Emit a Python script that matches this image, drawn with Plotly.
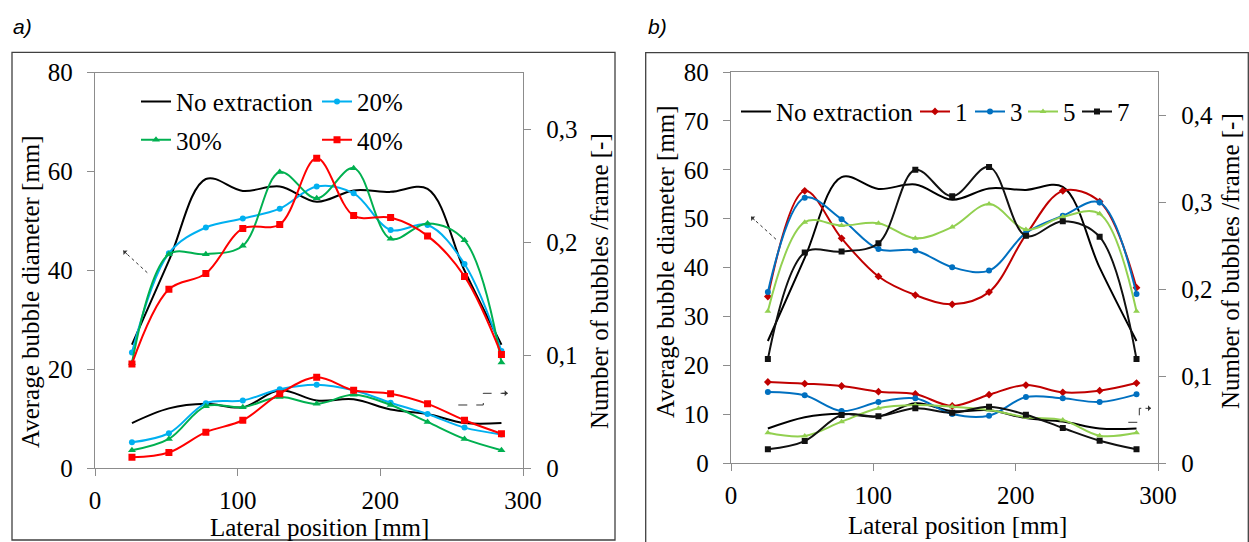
import plotly.graph_objects as go

# ---------------- data ----------------
lateral_mm = [25.9, 51.8, 77.7, 103.6, 129.5, 155.4, 181.3, 207.2, 233.1, 259.0, 284.9]

no_ext_diam = [25.0, 42.0, 58.5, 56.1, 57.0, 53.9, 56.2, 55.9, 56.5, 40.0, 25.0]
no_ext_num = [0.040, 0.053, 0.057, 0.054, 0.069, 0.060, 0.061, 0.052, 0.048, 0.040, 0.040]

a_20_diam = [23.4, 43.5, 48.7, 50.5, 52.5, 57.0, 55.6, 48.2, 49.2, 41.3, 23.7]
a_30_diam = [21.3, 43.3, 43.3, 45.0, 59.9, 54.6, 60.7, 46.4, 49.5, 46.1, 21.4]
a_40_diam = [21.1, 36.2, 39.4, 48.5, 49.3, 62.7, 51.1, 50.7, 47.0, 38.8, 23.0]
a_20_num = [0.023, 0.031, 0.0575, 0.060, 0.070, 0.074, 0.069, 0.058, 0.048, 0.036, 0.030]
a_30_num = [0.016, 0.026, 0.055, 0.054, 0.063, 0.057, 0.065, 0.056, 0.041, 0.026, 0.016]
a_40_num = [0.0097, 0.014, 0.032, 0.0425, 0.066, 0.0805, 0.069, 0.066, 0.057, 0.0425, 0.0306]

b_1_diam = [34.1, 55.7, 46.0, 38.2, 34.4, 32.5, 35.0, 46.7, 55.7, 53.5, 35.9]
b_3_diam = [35.0, 54.3, 49.9, 43.8, 43.5, 40.1, 39.4, 47.1, 50.6, 53.3, 34.6]
b_5_diam = [31.1, 49.3, 48.6, 49.1, 46.0, 48.3, 53.0, 47.8, 50.4, 51.0, 31.1]
b_7_diam = [21.3, 43.1, 43.3, 45.0, 60.0, 54.6, 60.6, 46.5, 49.5, 46.3, 21.3]
b_1_num = [0.0935, 0.0916, 0.0889, 0.0824, 0.0797, 0.0659, 0.0789, 0.090, 0.0816, 0.0835, 0.0923]
b_3_num = [0.082, 0.0782, 0.0601, 0.0705, 0.0747, 0.0567, 0.0548, 0.0762, 0.0747, 0.0705, 0.0793]
b_5_num = [0.0352, 0.0314, 0.0479, 0.0632, 0.067, 0.0651, 0.0613, 0.0529, 0.0498, 0.0318, 0.0352]
b_7_num = [0.0161, 0.0256, 0.0555, 0.054, 0.0632, 0.0582, 0.0651, 0.0559, 0.0406, 0.026, 0.0161]

# ---------------- figure ----------------
W, H = 1249, 542
SERIF = "Liberation Serif"
AX = "#8c8c8c"


def px(x):
    return x / W


def py(y):
    return 1 - y / H


fig = go.Figure()


def add(x, y, xa, ya, color, name, legend, symbol=None, msize=6, show=True):
    mode = "lines+markers" if symbol else "lines"
    fig.add_trace(go.Scatter(
        x=x, y=y, xaxis=xa, yaxis=ya, mode=mode, name=name,
        line=dict(color=color, width=2, shape="spline", smoothing=1),
        marker=dict(symbol=symbol or "circle", size=msize, color=color),
        legend=legend, showlegend=show, hoverinfo="skip"))


# panel a
add(lateral_mm, no_ext_diam, "x", "y", "black", "No extraction", "legend")
add(lateral_mm, no_ext_num, "x", "y2", "black", "No extraction", "legend", show=False)
add(lateral_mm, a_20_diam, "x", "y", "#00B0F0", "20%", "legend2", "circle", 6)
add(lateral_mm, a_20_num, "x", "y2", "#00B0F0", "20%", "legend2", "circle", 6, show=False)
add(lateral_mm, a_30_diam, "x", "y", "#00B050", "30%", "legend3", "triangle-up", 7)
add(lateral_mm, a_30_num, "x", "y2", "#00B050", "30%", "legend3", "triangle-up", 7, show=False)
add(lateral_mm, a_40_diam, "x", "y", "#FF0000", "40%", "legend4", "square", 7)
add(lateral_mm, a_40_num, "x", "y2", "#FF0000", "40%", "legend4", "square", 7, show=False)

# panel b
add(lateral_mm, no_ext_diam, "x2", "y3", "black", "No extraction", "legend5")
add(lateral_mm, no_ext_num, "x2", "y4", "black", "No extraction", "legend5", show=False)
add(lateral_mm, b_1_diam, "x2", "y3", "#C00000", "1", "legend6", "diamond", 6)
add(lateral_mm, b_1_num, "x2", "y4", "#C00000", "1", "legend6", "diamond", 6, show=False)
add(lateral_mm, b_3_diam, "x2", "y3", "#0070C0", "3", "legend7", "circle", 6)
add(lateral_mm, b_3_num, "x2", "y4", "#0070C0", "3", "legend7", "circle", 6, show=False)
add(lateral_mm, b_5_diam, "x2", "y3", "#92D050", "5", "legend8", "triangle-up", 6)
add(lateral_mm, b_5_num, "x2", "y4", "#92D050", "5", "legend8", "triangle-up", 6, show=False)
add(lateral_mm, b_7_diam, "x2", "y3", "#111111", "7", "legend9", "square", 6)
add(lateral_mm, b_7_num, "x2", "y4", "#111111", "7", "legend9", "square", 6, show=False)

tickfont = dict(family=SERIF, size=25, color="black")
common = dict(showgrid=False, zeroline=False, ticks="outside", ticklen=7, tickwidth=1.3,
              tickcolor=AX, showline=True, linecolor=AX, linewidth=1.3, tickfont=tickfont,
              automargin=False)

layout = dict(
    width=W, height=H, margin=dict(l=0, r=0, t=0, b=0, pad=0, autoexpand=False),
    paper_bgcolor="white", plot_bgcolor="white", separators=", ",
    font=dict(family=SERIF, size=25, color="black"),
    xaxis=dict(domain=[px(95), px(523)], range=[0, 300], dtick=100, anchor="y",
               mirror=True, ticklabelstandoff=3, **common),
    yaxis=dict(domain=[py(468.3), py(72.7)], range=[0, 80], dtick=20, anchor="x",
               ticklabelstandoff=9, **common),
    yaxis2=dict(range=[0, 0.35], tickvals=[0, 0.1, 0.2, 0.3], overlaying="y", side="right",
                anchor="x", ticklabelstandoff=10, **common),
    xaxis2=dict(domain=[px(731), px(1158)], range=[0, 300], dtick=100, anchor="y3",
                mirror=True, ticklabelstandoff=3, **common),
    yaxis3=dict(domain=[py(463.3), py(72)], range=[0, 80], dtick=10, anchor="x2",
                ticklabelstandoff=9, **common),
    yaxis4=dict(range=[0, 0.45], tickvals=[0, 0.1, 0.2, 0.3, 0.4], overlaying="y3", side="right",
                anchor="x2", ticklabelstandoff=10, **common),
)

legend_pos = {
    "legend": (176, 101.7), "legend2": (357, 101.7), "legend3": (176, 140), "legend4": (357, 140),
    "legend5": (776, 111.7), "legend6": (955, 111.7), "legend7": (1010, 111.7),
    "legend8": (1063, 111.7), "legend9": (1117, 111.7),
}
for key, (tx, ty) in legend_pos.items():
    layout[key] = dict(x=px(tx - 40), y=py(ty), xanchor="left", yanchor="middle",
                       orientation="h", bgcolor="rgba(0,0,0,0)", itemwidth=30,
                       font=dict(family=SERIF, size=25, color="black"),
                       tracegroupgap=0, borderwidth=0)

fig.update_layout(**layout)

# axis titles
ann = [
    dict(text="Average bubble diameter [mm]", x=px(30), y=py(292), textangle=-90),
    dict(text="Number of bubbles /frame [-]", x=px(599), y=py(281), textangle=-90),
    dict(text="Lateral position [mm]", x=px(319), y=py(527), textangle=0),
    dict(text="Average bubble diameter [mm]", x=px(665), y=py(262), textangle=-90),
    dict(text="Number of bubbles /frame [-]", x=px(1230), y=py(261), textangle=-90),
    dict(text="Lateral position [mm]", x=px(957), y=py(525.6), textangle=0),
]
for a in ann:
    fig.add_annotation(xref="paper", yref="paper", showarrow=False,
                       xanchor="center", yanchor="middle",
                       font=dict(family=SERIF, size=25, color="black"), **a)

for lbl, lx in (("a)", 11), ("b)", 646)):
    fig.add_annotation(text="<i>" + lbl + "</i>", xref="paper", yref="paper",
                       x=px(lx), y=py(27), xanchor="left", yanchor="middle", showarrow=False,
                       font=dict(family="Liberation Sans", size=21, color="black"))

# panel frames
fig.add_shape(type="rect", xref="paper", yref="paper", x0=px(12), x1=px(615), y0=py(540), y1=py(52.3),
              line=dict(color="#404040", width=1.3), fillcolor="rgba(0,0,0,0)", layer="below")
fig.add_shape(type="rect", xref="paper", yref="paper", x0=px(645.7), x1=px(1248.3), y0=py(560), y1=py(52.7),
              line=dict(color="#404040", width=1.3), fillcolor="rgba(0,0,0,0)", layer="below")


# direction arrows
def dotted_arrow(pts, dash):
    path = "M " + " L ".join(f"{px(x):.5f},{py(y):.5f}" for x, y in pts)
    fig.add_shape(type="path", xref="paper", yref="paper", path=path,
                  line=dict(color="#333333", width=1, dash=dash))
    (x1, y1), (x0, y0) = pts[-1], pts[-2]
    dx, dy = x0 - x1, y0 - y1
    n = (dx * dx + dy * dy) ** 0.5
    fig.add_annotation(xref="paper", yref="paper", x=px(x1), y=py(y1), text="",
                       showarrow=True, arrowhead=1, arrowsize=1, arrowwidth=1, arrowcolor="#333333",
                       axref="pixel", ayref="pixel", ax=dx / n * 7, ay=dy / n * 7, standoff=0)


dotted_arrow([(147.3, 272.7), (123.3, 250.7)], "dot")
dotted_arrow([(776, 239.3), (751, 216.7)], "dot")
dotted_arrow([(458.3, 405), (483.3, 405), (483.3, 393.3), (507.7, 393.3)], "dash")
dotted_arrow([(1128.3, 422.3), (1139.3, 422.3), (1139.3, 408.3), (1151, 408.3)], "dash")

fig.write_html("out.html", config={"displayModeBar": False},
               post_script="document.body.style.margin='0';document.body.style.padding='0';"
                           "document.body.style.overflow='hidden';")
